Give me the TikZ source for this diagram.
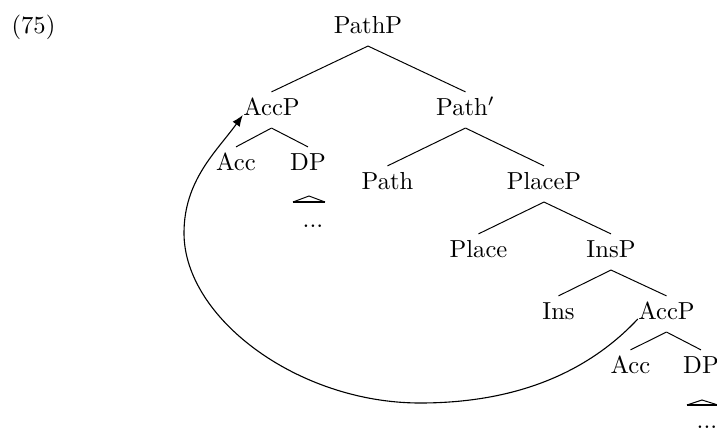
\documentclass[tikz,border=0pt]{standalone}
\usetikzlibrary{calc,arrows.meta}
\begin{document}
\begin{tikzpicture}[x=0.4065pt,y=-0.4065pt,
  tn/.style={anchor=base,inner xsep=0pt,inner ysep=0pt,text height=9.2pt,text depth=5.1pt},
  edge/.style={draw=black,line width=0.4pt},
  roofbase/.style={draw=black,line width=1.2pt},
  mv/.style={draw=black,line width=0.45pt,-{Latex[length=4.6pt,width=3.6pt]}}]
\useasboundingbox (0,0) rectangle (717,430);
\node[anchor=base] (ex) at (33.5,33) {(75)};
\node[tn] (PathP) at (368,33) {PathP};
\node[tn] (AccPu) at (271.5,115) {AccP};
\node[tn] (Pathbar) at (465.5,115) {Path$'$};
\node[tn] (Accu) at (236,170) {Acc};
\node[tn] (DPu) at (308,170) {DP};
\node[anchor=base] (dotsu) at (313,227) {...};
\node[tn] (Path) at (387.5,189) {Path};
\node[tn] (PlaceP) at (544,189) {PlaceP};
\node[tn] (Place) at (478.5,257) {Place};
\node[tn] (InsP) at (611,257) {InsP};
\node[tn] (Ins) at (558.5,319) {Ins};
\node[tn] (AccPl) at (666.5,319) {AccP};
\node[tn] (Accl) at (630.5,373) {Acc};
\node[tn] (DPl) at (701,373) {DP};
\node[anchor=base] (dotsl) at (707,428) {...};
\path[edge] (PathP.south) -- (AccPu.north);
\path[edge] (PathP.south) -- (Pathbar.north);
\path[edge] (AccPu.south) -- (Accu.north);
\path[edge] (AccPu.south) -- (DPu.north);
\path[edge] (Pathbar.south) -- (Path.north);
\path[edge] (Pathbar.south) -- (PlaceP.north);
\path[edge] (PlaceP.south) -- (Place.north);
\path[edge] (PlaceP.south) -- (InsP.north);
\path[edge] (InsP.south) -- (Ins.north);
\path[edge] (InsP.south) -- (AccPl.north);
\path[edge] (AccPl.south) -- (Accl.north);
\path[edge] (AccPl.south) -- (DPl.north);
% roofs
\path[edge] ($(DPu.base)+(-15,32)$) -- ($(DPu.base)+(1,26)$) -- ($(DPu.base)+(17,32)$);
\path[roofbase] ($(DPu.base)+(-15,32)$) -- ($(DPu.base)+(17,32)$);
\path[edge] ($(DPl.base)+(-14,32)$) -- ($(DPl.base)+(1,27)$) -- ($(DPl.base)+(17,32)$);
\path[roofbase] ($(DPl.base)+(-14,32)$) -- ($(DPl.base)+(17,32)$);
% movement arrow
\path[mv] (AccPl.base west) .. controls (590,370) and (520,403) .. (420,403)
  .. controls (298,403) and (184,318) .. (184,233)
  .. controls (184,180) and (217,151) .. (AccPu.base west);
\end{tikzpicture}
\end{document}
